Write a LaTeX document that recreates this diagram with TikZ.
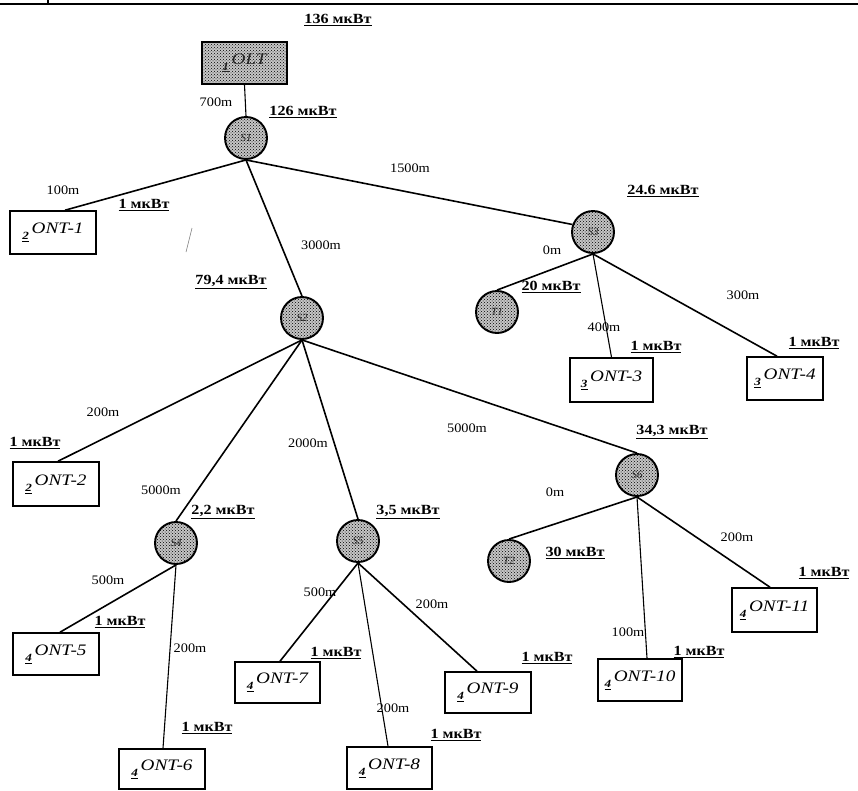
\documentclass[tikz,border=0pt]{standalone}
\usepackage{fontspec}
\setmainfont{Liberation Serif}
\newfontfamily\distfont[FakeStretch=1.1]{Liberation Serif}
\newfontfamily\powfont[FakeStretch=1.15]{Liberation Serif}
\newfontfamily\ontfont[FakeStretch=1.2]{Liberation Serif}
\usetikzlibrary{patterns}
\newcommand{\pref}[1]{\raisebox{-6pt}{\underline{\fontsize{11}{11}\selectfont\bfseries #1}}}
\tikzset{
  hub/.style={circle, draw, line width=1.9pt, minimum size=42pt, inner sep=0pt,
    preaction={fill=gray!45}, pattern=crosshatch dots, pattern color=black,
    font=\itshape\fontsize{11}{11}\selectfont, text=black!85},
  box/.style 2 args={draw, line width=1.6pt, minimum width=#1, minimum height=#2,
    inner sep=0pt, font=\ontfont\itshape\fontsize{16}{16}\selectfont},
  oltbox/.style={box={85pt}{42pt}, preaction={fill=gray!45}, pattern=crosshatch dots,
    pattern color=black, text=black!85},
  wire/.style={line width=1.6pt},
  thin/.style={line width=1.1pt},
  dist/.style={font=\distfont\fontsize{13}{13}\selectfont, inner sep=1pt},
  pw/.style={font=\powfont\bfseries\fontsize{14}{14}\selectfont, inner sep=1pt}
}
\begin{document}
\begin{tikzpicture}[x=1pt,y=-1pt]
\useasboundingbox (0,0) rectangle (858,790);
% page border remnant
\draw[line width=1.8pt] (0,4) -- (858,4);
\draw[line width=1.2pt] (48,0) -- (48,5);
\draw[line width=0.6pt, gray] (192,228) -- (186,252);

% nodes
\node[oltbox] (olt) at (244.5,63) {\pref{1}\,OLT};
\node[hub] (c1) at (246,138) {S1};
\node[hub] (c2) at (302,318) {S2};
\node[hub] (c3) at (593,232) {S3};
\node[hub] (t1) at (497,312) {T1};
\node[hub] (c4) at (176,543) {S4};
\node[hub] (c5) at (358,541) {S5};
\node[hub] (c6) at (637,475) {S6};
\node[hub] (t2) at (509,561) {T2};

\node[box={86pt}{43pt}] (ont1) at (53,232.5) {\pref{2}\,ONT-1};
\node[box={86pt}{44pt}] (ont2) at (56,484) {\pref{2}\,ONT-2};
\node[box={83pt}{44pt}] (ont3) at (611.5,380) {\pref{3}\,ONT-3};
\node[box={76pt}{43pt}] (ont4) at (785,378.5) {\pref{3}\,ONT-4};
\node[box={86pt}{42pt}] (ont5) at (56,654) {\pref{4}\,ONT-5};
\node[box={86pt}{40pt}] (ont6) at (162,769) {\pref{4}\,ONT-6};
\node[box={85pt}{41pt}] (ont7) at (277.5,682.5) {\pref{4}\,ONT-7};
\node[box={85pt}{42pt}] (ont8) at (389.5,768) {\pref{4}\,ONT-8};
\node[box={86pt}{41pt}] (ont9) at (488,692.5) {\pref{4}\,ONT-9};
\node[box={84pt}{42pt}] (ont10) at (640,680) {\pref{4}\,ONT-10};
\node[box={85pt}{44pt}] (ont11) at (774.5,610) {\pref{4}\,ONT-11};

% connectors
\draw[thin] (olt.south) -- (c1.north);
\draw[wire] (c1.south) -- ([xshift=12pt]ont1.north);
\draw[wire] (c1.south) -- (c2.north);
\draw[wire] (c1.south) -- (c3.160);
\draw[wire] (c3.south) -- (t1.north);
\draw[thin] (c3.south) -- (ont3.north);
\draw[wire] (c3.south) -- ([xshift=-8pt]ont4.north);
\draw[wire] (c2.south) -- ([xshift=2pt]ont2.north);
\draw[wire] (c2.south) -- (c4.north);
\draw[wire] (c2.south) -- (c5.north);
\draw[wire] (c2.south) -- (c6.north);
\draw[wire] (c4.south) -- ([xshift=4pt]ont5.north);
\draw[thin] (c4.south) -- ([xshift=1pt]ont6.north);
\draw[wire] (c5.south) -- ([xshift=2.5pt]ont7.north);
\draw[thin] (c5.south) -- ([xshift=-1.5pt]ont8.north);
\draw[wire] (c5.south) -- ([xshift=-11pt]ont9.north);
\draw[wire] (c6.south) -- (t2.north);
\draw[thin] (c6.south) -- ([xshift=7pt]ont10.north);
\draw[wire] (c6.south) -- ([xshift=-4.5pt]ont11.north);

% distance labels
\node[dist] (d1) at (216,102) {700m};
\node[dist] (d2) at (63,190) {100m};
\node[dist] (d3) at (410,168) {1500m};
\node[dist] (d4) at (321,245) {3000m};
\node[dist] (d5) at (552,250) {0m};
\node[dist] (d6) at (604,327) {400m};
\node[dist] (d7) at (743,295) {300m};
\node[dist] (d8) at (103,412) {200m};
\node[dist] (d9) at (161,490) {5000m};
\node[dist] (d10) at (308,443) {2000m};
\node[dist] (d11) at (467,428) {5000m};
\node[dist] (d12) at (555,492) {0m};
\node[dist] (d13) at (737,537) {200m};
\node[dist] (d14) at (108,580) {500m};
\node[dist] (d15) at (320,592) {500m};
\node[dist] (d16) at (190,648) {200m};
\node[dist] (d17) at (393,708) {200m};
\node[dist] (d18) at (432,604) {200m};
\node[dist] (d19) at (628,632) {100m};

% power labels
\node[pw] (p1) at (338,20) {\underline{136 мкВт}};
\node[pw] (p2) at (303,112) {\underline{126 мкВт}};
\node[pw] (p3) at (144,205) {\underline{1 мкВт}};
\node[pw] (p4) at (663,191) {\underline{24.6 мкВт}};
\node[pw] (p5) at (231,282) {\underline{79,4 мкВт}};
\node[pw] (p6) at (551,287) {\underline{20 мкВт}};
\node[pw] (p7) at (656,347) {\underline{1 мкВт}};
\node[pw] (p8) at (814,343) {\underline{1 мкВт}};
\node[pw] (p9) at (35,443) {\underline{1 мкВт}};
\node[pw] (p10) at (223,512) {\underline{2,2 мкВт}};
\node[pw] (p11) at (408,512) {\underline{3,5 мкВт}};
\node[pw] (p12) at (672,432) {\underline{34,3 мкВт}};
\node[pw] (p13) at (575,553) {\underline{30 мкВт}};
\node[pw] (p14) at (824,573) {\underline{1 мкВт}};
\node[pw] (p15) at (120,622) {\underline{1 мкВт}};
\node[pw] (p16) at (336,653) {\underline{1 мкВт}};
\node[pw] (p17) at (547,658) {\underline{1 мкВт}};
\node[pw] (p18) at (699,652) {\underline{1 мкВт}};
\node[pw] (p19) at (207,728) {\underline{1 мкВт}};
\node[pw] (p20) at (456,735) {\underline{1 мкВт}};
\end{tikzpicture}
\end{document}
